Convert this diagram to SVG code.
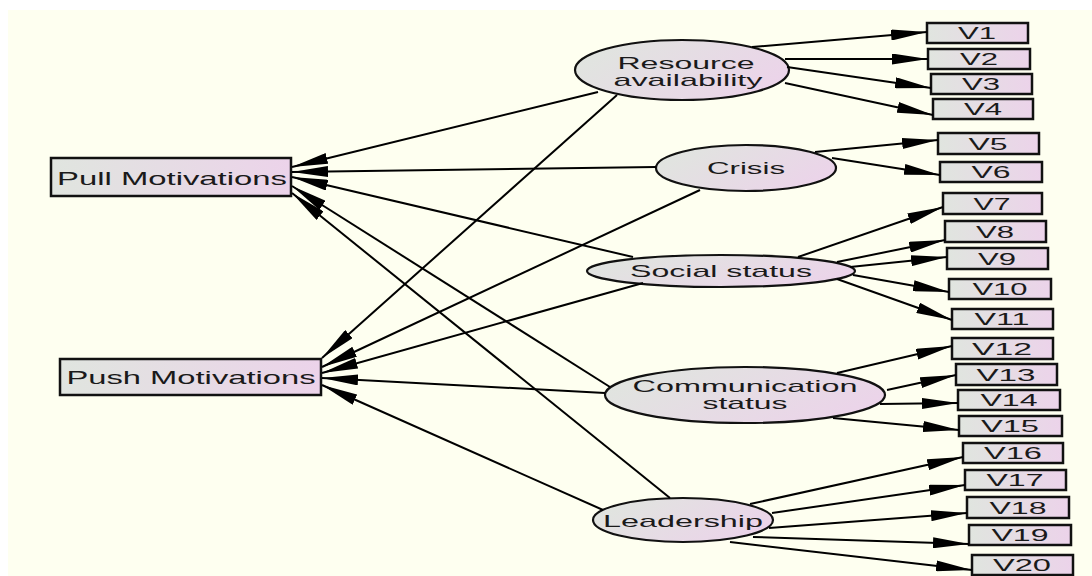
<svg xmlns="http://www.w3.org/2000/svg" width="1092" height="576" viewBox="0 0 1092 576">
<defs>
<linearGradient id="g" x1="0" y1="0" x2="1" y2="0">
<stop offset="0" stop-color="#E0E5DF"/>
<stop offset="1" stop-color="#ECD3EA"/>
</linearGradient>
<linearGradient id="ge" x1="0" y1="0.3" x2="1" y2="0.7">
<stop offset="0" stop-color="#E0E5DF"/>
<stop offset="1" stop-color="#ECD3EA"/>
</linearGradient>
<marker id="ah" markerUnits="userSpaceOnUse" markerWidth="36" markerHeight="11" refX="36" refY="5.5" orient="auto">
<path d="M0,0 L36,5.5 L0,11 Z" fill="#000"/>
</marker>
</defs>
<style>
.box{fill:url(#g);stroke:#111;stroke-width:2.5}
.ell{fill:url(#ge);stroke:#111;stroke-width:2.2}
.t{font-family:"Liberation Sans",Arial,sans-serif;fill:#1a1a1a;text-anchor:middle}
.big{font-size:19px}
.lat{font-size:17px}
.v{font-size:16px}
.c line{stroke:#000;stroke-width:2;marker-end:url(#ah)}
</style>
<rect x="0" y="0" width="1092" height="576" fill="#fff"/>
<rect x="8" y="10" width="1084" height="566" fill="#FEFFF0"/>

<g id="pull">
<rect class="box" x="51" y="158" width="240" height="38"/>
<text class="t big" x="172" y="185" textLength="230" lengthAdjust="spacingAndGlyphs">Pull Motivations</text>
</g>
<g id="push">
<rect class="box" x="60" y="359" width="261" height="36"/>
<text class="t big" x="191" y="383.5" textLength="249" lengthAdjust="spacingAndGlyphs">Push Motivations</text>
</g>

<g id="resource">
<ellipse class="ell" cx="682" cy="70" rx="107" ry="30"/>
<text class="t lat" x="686" y="69" textLength="137" lengthAdjust="spacingAndGlyphs">Resource</text>
<text class="t lat" x="688" y="86" textLength="149" lengthAdjust="spacingAndGlyphs">availability</text>
</g>
<g id="crisis">
<ellipse class="ell" cx="746" cy="168" rx="90" ry="23"/>
<text class="t lat" x="746" y="174" textLength="78" lengthAdjust="spacingAndGlyphs">Crisis</text>
</g>
<g id="social">
<ellipse class="ell" cx="721" cy="271" rx="134" ry="16"/>
<text class="t lat" x="721" y="277" textLength="182" lengthAdjust="spacingAndGlyphs">Social status</text>
</g>
<g id="communication">
<ellipse class="ell" cx="745" cy="395" rx="140" ry="28"/>
<text class="t lat" x="745" y="392" textLength="225" lengthAdjust="spacingAndGlyphs">Communication</text>
<text class="t lat" x="745" y="409" textLength="85" lengthAdjust="spacingAndGlyphs">status</text>
</g>
<g id="leadership">
<ellipse class="ell" cx="683" cy="520" rx="90" ry="22"/>
<text class="t lat" x="683" y="527" textLength="160" lengthAdjust="spacingAndGlyphs">Leadership</text>
</g>

<g id="v1"><rect class="box" x="927" y="23" width="101" height="20"/><text class="t v" x="977" y="38.5" textLength="38" lengthAdjust="spacingAndGlyphs">V1</text></g>
<g id="v2"><rect class="box" x="928" y="49" width="102" height="20"/><text class="t v" x="979" y="64.5" textLength="38" lengthAdjust="spacingAndGlyphs">V2</text></g>
<g id="v3"><rect class="box" x="931" y="74" width="101" height="20"/><text class="t v" x="981" y="89.5" textLength="38" lengthAdjust="spacingAndGlyphs">V3</text></g>
<g id="v4"><rect class="box" x="933" y="99" width="100" height="20"/><text class="t v" x="983" y="114.5" textLength="38" lengthAdjust="spacingAndGlyphs">V4</text></g>
<g id="v5"><rect class="box" x="938" y="133" width="101" height="21"/><text class="t v" x="988" y="149.5" textLength="39" lengthAdjust="spacingAndGlyphs">V5</text></g>
<g id="v6"><rect class="box" x="940" y="162" width="102" height="20"/><text class="t v" x="991" y="177.5" textLength="39" lengthAdjust="spacingAndGlyphs">V6</text></g>
<g id="v7"><rect class="box" x="943" y="193" width="99" height="21"/><text class="t v" x="992" y="209.5" textLength="37" lengthAdjust="spacingAndGlyphs">V7</text></g>
<g id="v8"><rect class="box" x="945" y="221" width="101" height="21"/><text class="t v" x="995" y="237.5" textLength="38" lengthAdjust="spacingAndGlyphs">V8</text></g>
<g id="v9"><rect class="box" x="947" y="248" width="101" height="21"/><text class="t v" x="997" y="264.5" textLength="38" lengthAdjust="spacingAndGlyphs">V9</text></g>
<g id="v10"><rect class="box" x="949" y="279" width="102" height="20"/><text class="t v" x="1000" y="294.5" textLength="55" lengthAdjust="spacingAndGlyphs">V10</text></g>
<g id="v11"><rect class="box" x="952" y="309" width="101" height="20"/><text class="t v" x="1002" y="324.5" textLength="55" lengthAdjust="spacingAndGlyphs">V11</text></g>
<g id="v12"><rect class="box" x="952" y="338" width="101" height="21"/><text class="t v" x="1002" y="354.5" textLength="60" lengthAdjust="spacingAndGlyphs">V12</text></g>
<g id="v13"><rect class="box" x="956" y="364" width="101" height="21"/><text class="t v" x="1006" y="380.5" textLength="59" lengthAdjust="spacingAndGlyphs">V13</text></g>
<g id="v14"><rect class="box" x="958" y="390" width="102" height="20"/><text class="t v" x="1009" y="405.5" textLength="57" lengthAdjust="spacingAndGlyphs">V14</text></g>
<g id="v15"><rect class="box" x="959" y="416" width="103" height="20"/><text class="t v" x="1010" y="431.5" textLength="58" lengthAdjust="spacingAndGlyphs">V15</text></g>
<g id="v16"><rect class="box" x="963" y="443" width="100" height="20"/><text class="t v" x="1013" y="458.5" textLength="58" lengthAdjust="spacingAndGlyphs">V16</text></g>
<g id="v17"><rect class="box" x="965" y="470" width="101" height="20"/><text class="t v" x="1015" y="485.5" textLength="57" lengthAdjust="spacingAndGlyphs">V17</text></g>
<g id="v18"><rect class="box" x="967" y="497" width="102" height="21"/><text class="t v" x="1018" y="513.5" textLength="57" lengthAdjust="spacingAndGlyphs">V18</text></g>
<g id="v19"><rect class="box" x="969" y="525" width="102" height="20"/><text class="t v" x="1020" y="540.5" textLength="57" lengthAdjust="spacingAndGlyphs">V19</text></g>
<g id="v20"><rect class="box" x="972" y="555" width="101" height="20"/><text class="t v" x="1022" y="570.5" textLength="58" lengthAdjust="spacingAndGlyphs">V20</text></g>

<g id="connectors" class="c">
<line x1="598" y1="92" x2="292" y2="167"/>
<line x1="617" y1="95" x2="322" y2="358"/>
<line x1="752" y1="47" x2="927" y2="32"/>
<line x1="785" y1="59" x2="928" y2="59"/>
<line x1="787" y1="67" x2="931" y2="88"/>
<line x1="785" y1="83" x2="933" y2="115"/>
<line x1="656" y1="167" x2="292" y2="172"/>
<line x1="700" y1="190" x2="322" y2="367"/>
<line x1="815" y1="152" x2="938" y2="140"/>
<line x1="832" y1="158" x2="940" y2="175"/>
<line x1="633" y1="257" x2="292" y2="177"/>
<line x1="643" y1="283" x2="322" y2="373"/>
<line x1="798" y1="257" x2="943" y2="207"/>
<line x1="837" y1="262" x2="945" y2="240"/>
<line x1="850" y1="267" x2="947" y2="257"/>
<line x1="853" y1="275" x2="949" y2="292"/>
<line x1="837" y1="279" x2="952" y2="320"/>
<line x1="610" y1="387" x2="292" y2="186"/>
<line x1="605" y1="393" x2="322" y2="378"/>
<line x1="837" y1="373" x2="952" y2="346"/>
<line x1="887" y1="390" x2="956" y2="375"/>
<line x1="880" y1="404" x2="958" y2="403"/>
<line x1="833" y1="418" x2="959" y2="430"/>
<line x1="670" y1="498" x2="292" y2="193"/>
<line x1="603" y1="510" x2="322" y2="385"/>
<line x1="750" y1="504" x2="963" y2="457"/>
<line x1="772" y1="513" x2="965" y2="485"/>
<line x1="769" y1="528" x2="967" y2="513"/>
<line x1="753" y1="537" x2="969" y2="544"/>
<line x1="730" y1="542" x2="972" y2="570"/>
</g>
</svg>
